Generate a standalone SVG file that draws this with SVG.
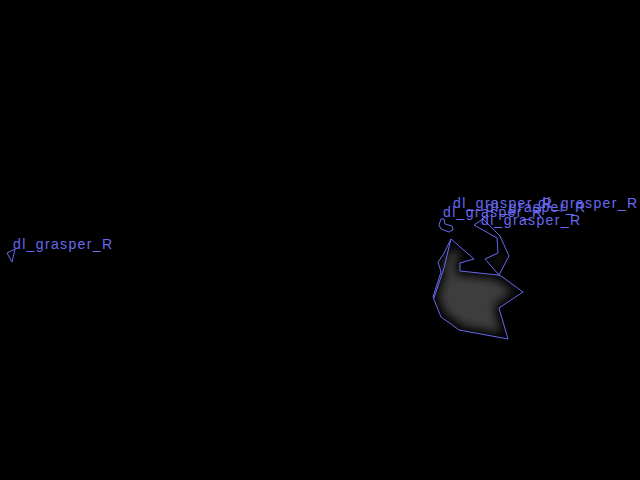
<svg xmlns="http://www.w3.org/2000/svg" width="640" height="480" viewBox="0 0 640 480">
<style>
.ln{fill:none;stroke:#6868f0;stroke-width:1;stroke-linejoin:miter}
.lb{font-family:"Liberation Sans",Arial,sans-serif;font-size:14px;fill:#6868f0}
.fl{fill:#3c3c3c}
</style>
<defs>
<filter id="soft" x="-30%" y="-30%" width="160%" height="160%"><feMorphology operator="erode" radius="4"/><feGaussianBlur stdDeviation="5"/></filter>
<clipPath id="cMain"><polygon points="451,239 474,259 460,263 460,271 498,275 501,276 523,292 499,308 508,339 459,330 451,324 441,317 433,297 441,272 438,262 443,255"/></clipPath>
<clipPath id="cUp"><polygon points="474,225 483,219 500,236 509,256 499,275 485,259 498,253 497,238"/></clipPath>
</defs>
<rect width="640" height="480" fill="#000"/>
<g id="obj-left">
<polygon class="ln" points="7,253 15,249 12,262"/>
<text class="lb" x="13" y="249" textLength="99" lengthAdjust="spacing">dl_grasper_R</text>
</g>
<g id="obj-main">
<g clip-path="url(#cMain)"><polygon class="fl" filter="url(#soft)" points="451,239 474,259 460,263 460,271 498,275 501,276 523,292 499,308 508,339 459,330 451,324 441,317 433,297 441,272 438,262 443,255"/></g>
<polygon class="ln" points="451,239 474,259 460,263 460,271 498,275 501,276 523,292 499,308 508,339 459,330 451,324 441,317 433,297 441,272 438,262 443,255"/>
<polyline class="ln" points="451,239 449,247 444,268 434,298"/>
<text class="lb" x="453" y="208" textLength="99" lengthAdjust="spacing">dl_grasper_R</text>
</g>
<g id="obj-upper">
<g clip-path="url(#cUp)"><polygon class="fl" filter="url(#soft)" points="474,225 483,219 500,236 509,256 499,275 485,259 498,253 497,238"/></g>
<polygon class="ln" points="474,225 483,219 500,236 509,256 499,275 485,259 498,253 497,238"/>
<text class="lb" x="481" y="225" textLength="99" lengthAdjust="spacing">dl_grasper_R</text>
</g>
<g id="obj-loop">
<polygon class="ln" points="441,219 439,225 441,229 449,232 453,230 452,226 445,224 444,219"/>
<text class="lb" x="443" y="217" textLength="99" lengthAdjust="spacing">dl_grasper_R</text>
</g>
<g id="obj-label-d">
<text class="lb" x="538" y="208" textLength="99" lengthAdjust="spacing">dl_grasper_R</text>
</g>
<g id="obj-label-e">
<text class="lb" x="486" y="212" textLength="99" lengthAdjust="spacing">dl_grasper_R</text>
</g>
<g id="connectors"/>
</svg>
